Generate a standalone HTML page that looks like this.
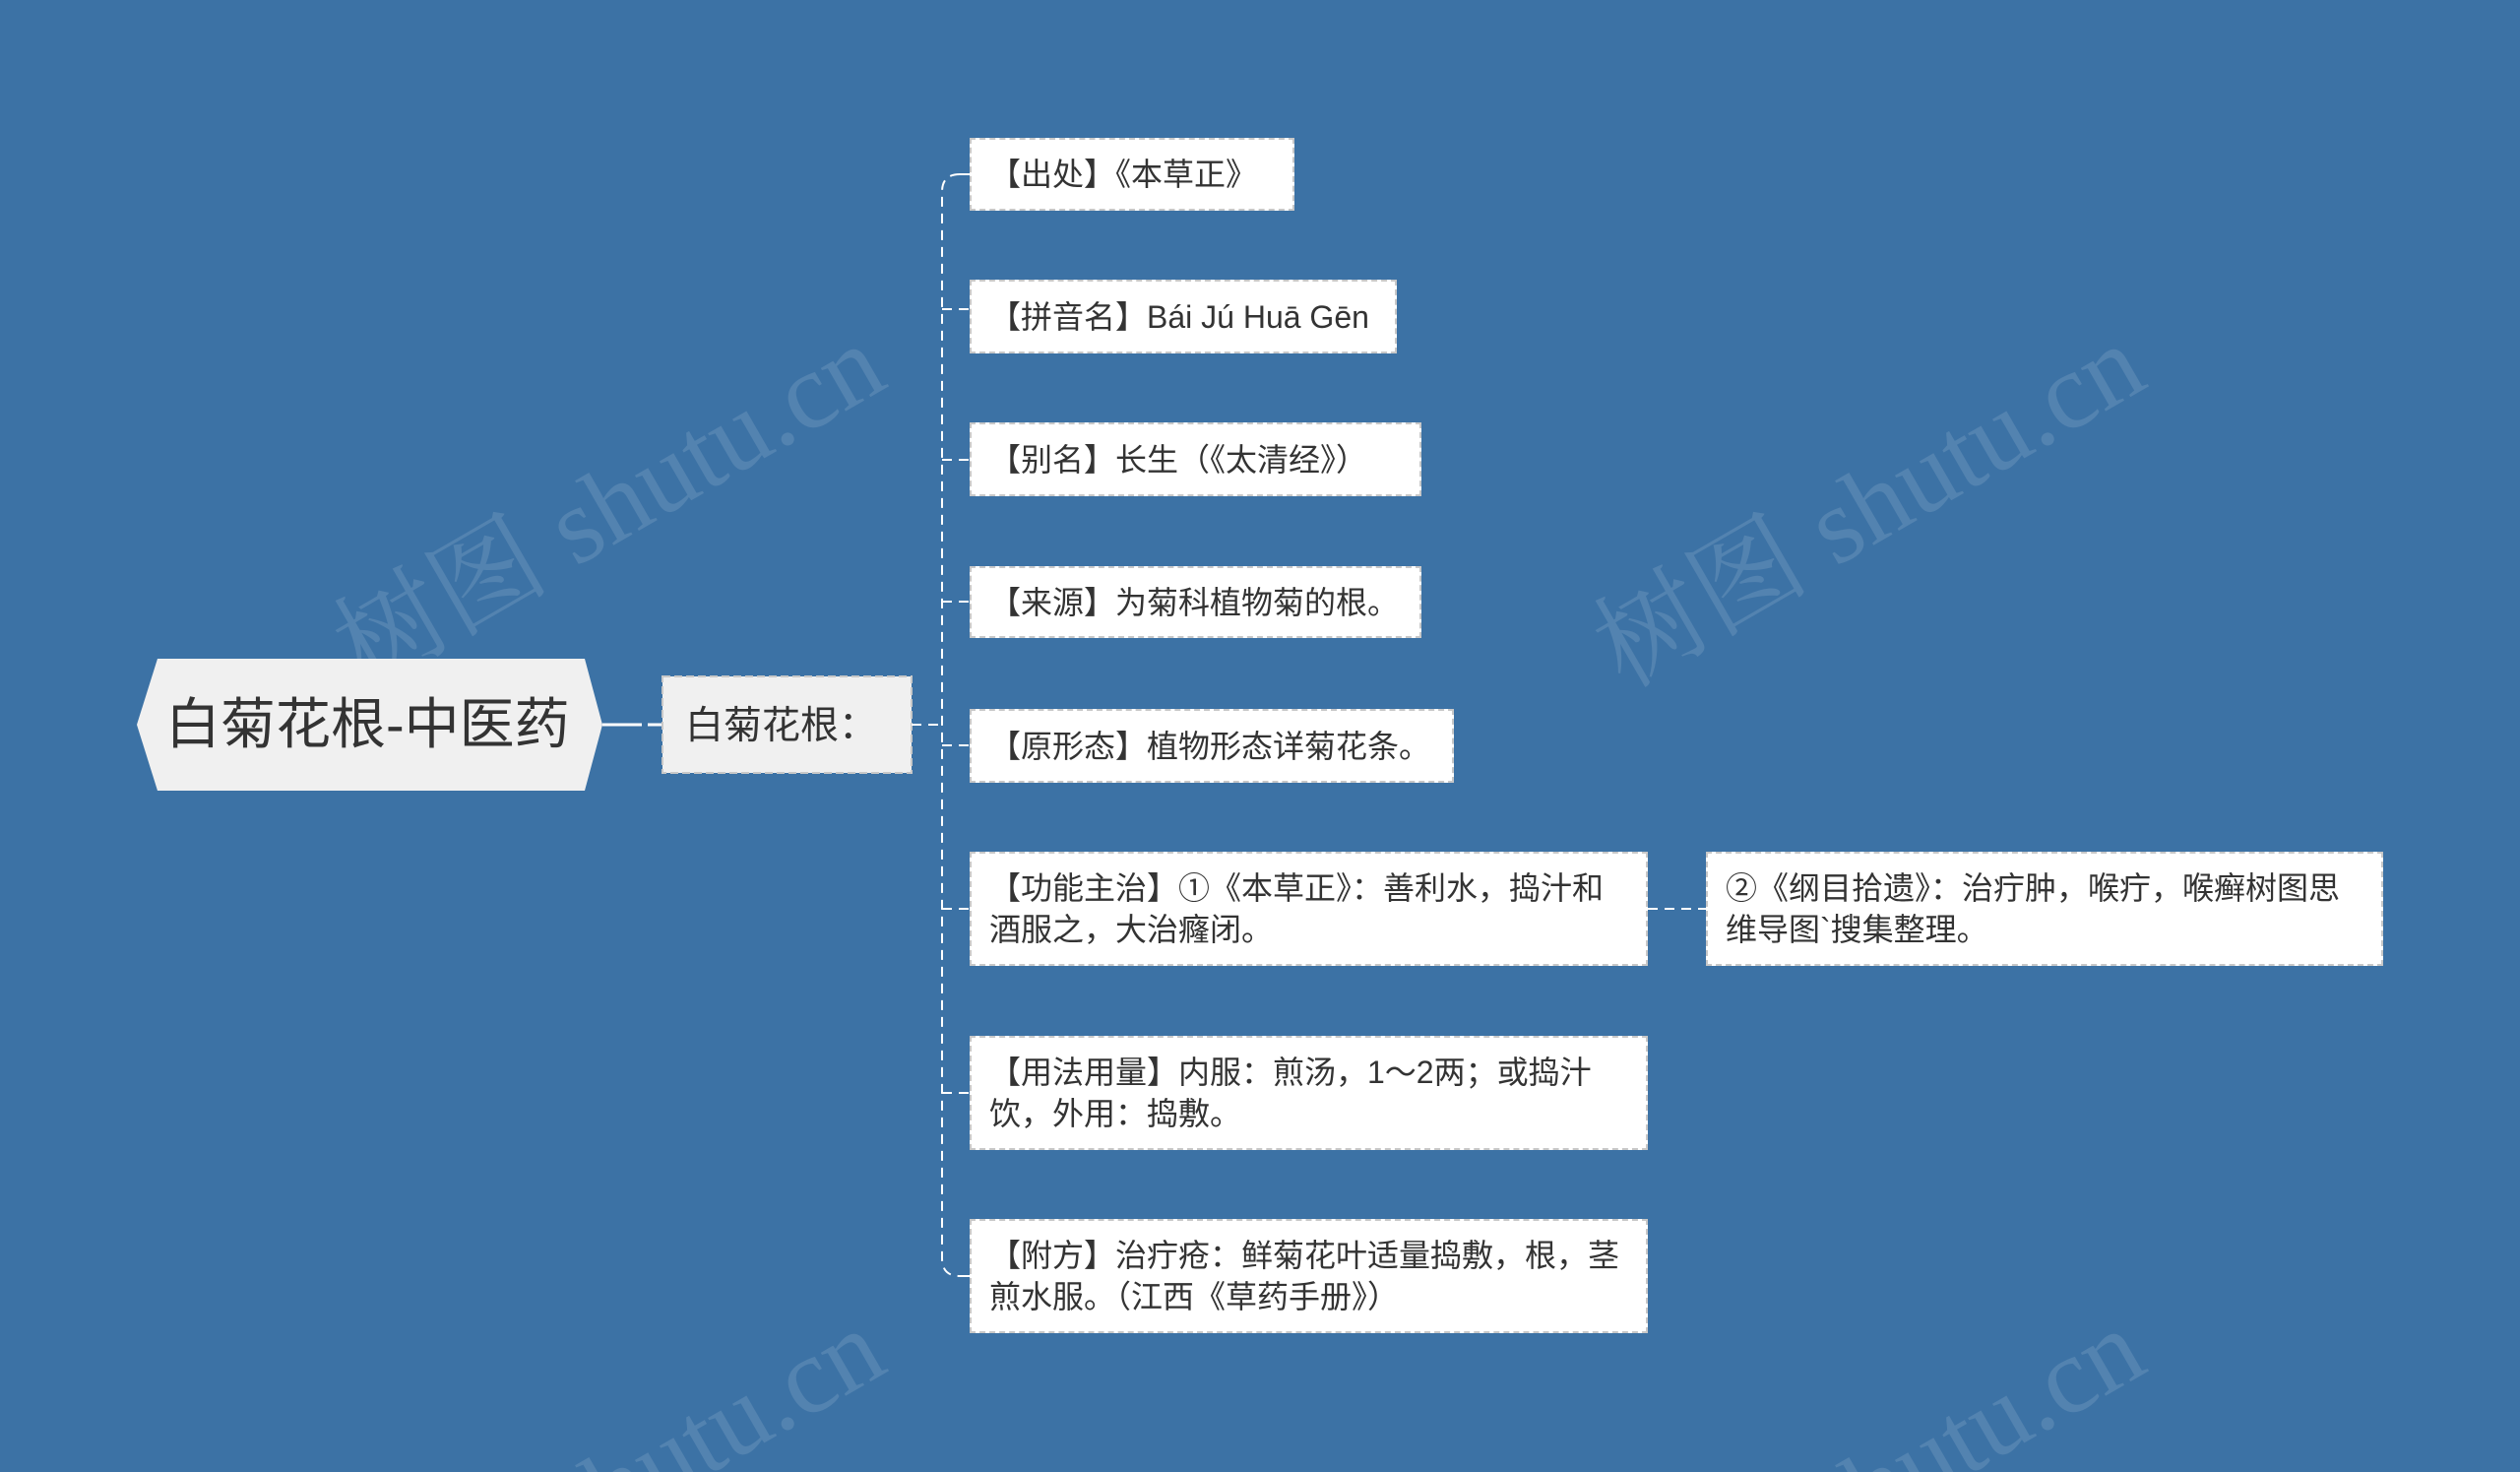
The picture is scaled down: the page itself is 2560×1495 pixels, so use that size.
<!DOCTYPE html>
<html><head><meta charset="utf-8"><style>
html,body{margin:0;padding:0;width:2560px;height:1495px;overflow:hidden}
body{background:#3c72a5;position:relative;font-family:"Liberation Sans","Noto Sans CJK SC",sans-serif;color:#333}
#wrap{position:absolute;left:0;top:0;width:2560px;height:1495px;overflow:hidden}
.leaf{position:absolute;background:#fff;border:2px dashed #c8c8c8;box-sizing:border-box;font-size:32px;line-height:42px;padding:0 18px;display:flex;align-items:center}
</style></head><body><div id="wrap">
<svg width="2560" height="1495" style="position:absolute;left:0;top:0;overflow:hidden">
<g fill="rgba(255,255,255,0.12)" font-size="110" font-family="Liberation Serif,Noto Serif CJK SC,serif">
<text transform="translate(370,700) rotate(-30)">树图 shutu.cn</text>
<text transform="translate(1650,700) rotate(-30)">树图 shutu.cn</text>
<text transform="translate(370,1700) rotate(-30)">树图 shutu.cn</text>
<text transform="translate(1650,1700) rotate(-30)">树图 shutu.cn</text>
</g>
<polygon points="160,669 594,669 612,736 594,803 160,803 139,736" fill="#f0f0f0"/>
<line x1="612" y1="736" x2="673" y2="736" stroke="#fff" stroke-width="3" stroke-dasharray="40,6"/>
<rect x="673" y="687" width="253" height="98" fill="#f0f0f0" stroke="#c8c8c8" stroke-width="2" stroke-dasharray="8,4"/>
<g stroke="#fff" stroke-width="2" fill="none" stroke-dasharray="10,7">
<line x1="926" y1="736" x2="957" y2="736"/>
<path d="M975 177 Q957 177 957 195 L957 1278 Q957 1296 975 1296"/>
<line x1="957" y1="314" x2="985" y2="314"/>
<line x1="957" y1="467" x2="985" y2="467"/>
<line x1="957" y1="611" x2="985" y2="611"/>
<line x1="957" y1="757" x2="985" y2="757"/>
<line x1="957" y1="923" x2="985" y2="923"/>
<line x1="957" y1="1110" x2="985" y2="1110"/>
<line x1="975" y1="177" x2="985" y2="177"/>
<line x1="975" y1="1296" x2="985" y2="1296"/>
<line x1="1674" y1="923" x2="1733" y2="923"/>
</g>
<text x="168" y="755" font-size="56" fill="#333" font-family="Liberation Sans,Noto Sans CJK SC,sans-serif">白菊花根-中医药</text>
<text x="696" y="750" font-size="39" fill="#333" font-family="Liberation Sans,Noto Sans CJK SC,sans-serif">白菊花根：</text>
</svg>
<div class="leaf" style="left:985px;top:140px;width:330px;height:74px">【出处】《本草正》</div>
<div class="leaf" style="left:985px;top:284px;width:434px;height:75px">【拼音名】Bái Jú Huā Gēn</div>
<div class="leaf" style="left:985px;top:429px;width:459px;height:75px">【别名】长生（《太清经》）</div>
<div class="leaf" style="left:985px;top:575px;width:459px;height:73px">【来源】为菊科植物菊的根。</div>
<div class="leaf" style="left:985px;top:720px;width:492px;height:75px">【原形态】植物形态详菊花条。</div>
<div class="leaf" style="left:985px;top:865px;width:689px;height:116px">【功能主治】①《本草正》：善利水，捣汁和酒服之，大治癃闭。</div>
<div class="leaf" style="left:985px;top:1052px;width:689px;height:116px">【用法用量】内服：煎汤，1～2两；或捣汁饮，外用：捣敷。</div>
<div class="leaf" style="left:985px;top:1238px;width:689px;height:116px">【附方】治疔疮：鲜菊花叶适量捣敷，根，茎煎水服。（江西《草药手册》）</div>
<div class="leaf" style="left:1733px;top:865px;width:688px;height:116px">②《纲目拾遗》：治疔肿，喉疔，喉癣树图思维导图`搜集整理。</div>
</div></body></html>
